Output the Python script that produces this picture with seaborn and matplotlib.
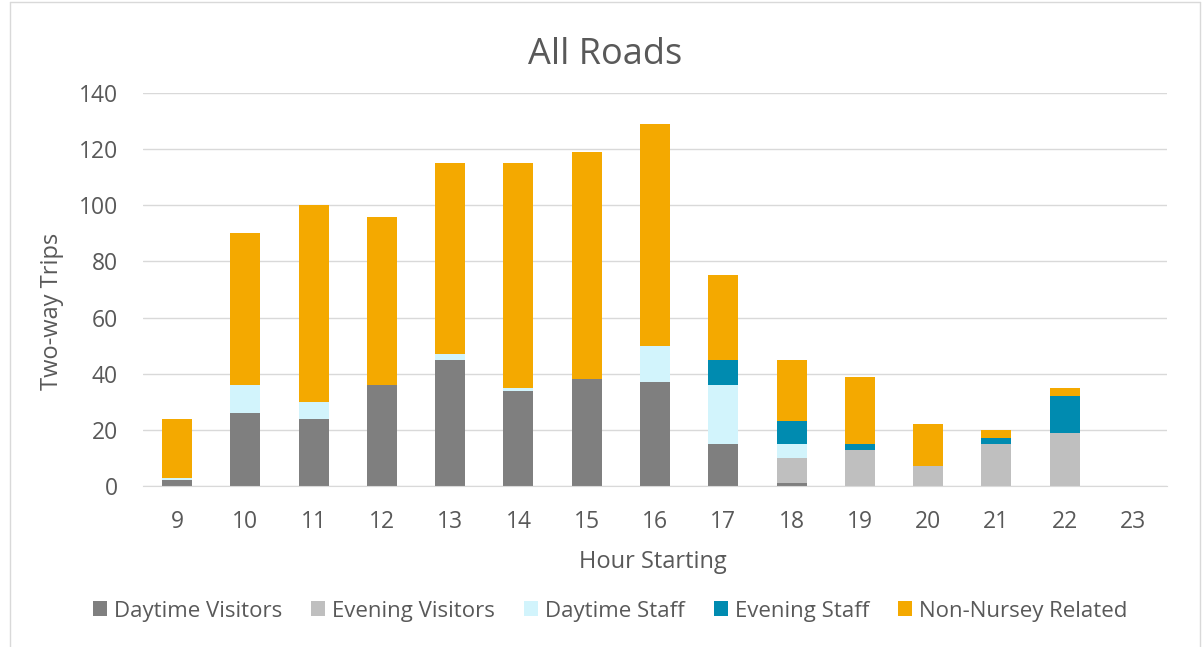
import numpy as np
import pandas as pd
import seaborn as sns
import matplotlib.pyplot as plt
from matplotlib.lines import Line2D
from matplotlib.patches import Patch

hours = ['9', '10', '11', '12', '13', '14', '15', '16', '17', '18', '19', '20', '21', '22', '23']
daytime_visitors = [2, 26, 24, 36, 45, 34, 38, 37, 15, 1, 0, 0, 0, 0, 0]
evening_visitors = [0, 0, 0, 0, 0, 0, 0, 0, 0, 9, 13, 7, 15, 19, 0]
daytime_staff = [1, 10, 6, 0, 2, 1, 0, 13, 21, 5, 0, 0, 0, 0, 0]
evening_staff = [0, 0, 0, 0, 0, 0, 0, 0, 9, 8, 2, 0, 2, 13, 0]
non_nursery = [21, 54, 70, 60, 68, 80, 81, 79, 30, 22, 24, 15, 3, 3, 0]

series = ['Daytime Visitors', 'Evening Visitors', 'Daytime Staff', 'Evening Staff', 'Non-Nursey Related']
colors = ['#7f7f7f', '#bfbfbf', '#d2f4fc', '#008bb0', '#f4a900']

df = pd.DataFrame({
    'hour': hours,
    'Daytime Visitors': daytime_visitors,
    'Evening Visitors': evening_visitors,
    'Daytime Staff': daytime_staff,
    'Evening Staff': evening_staff,
    'Non-Nursey Related': non_nursery,
})

# cumulative totals, drawn from the top layer down so each overlays the previous
cum = df[series].cumsum(axis=1)

sns.set_style('white')
plt.rcParams['font.family'] = ['Open Sans', 'DejaVu Sans']
txt = '#595959'
W, H = 1204, 647

fig, ax = plt.subplots(figsize=(12.04, 6.47), dpi=100)
fig.subplots_adjust(left=143 / W, right=1167 / W, top=1 - 93 / H, bottom=1 - 486 / H)

for name, col in reversed(list(zip(series, colors))):
    sns.barplot(x=df['hour'], y=cum[name], color=col, width=0.44, ax=ax,
                saturation=1, linewidth=0, order=hours)

ax.set_ylim(0, 140)
ax.set_yticks(np.arange(0, 141, 20))
ax.yaxis.grid(True, color='#d9d9d9', linewidth=1)
ax.set_axisbelow(True)
for s in ['top', 'right', 'left']:
    ax.spines[s].set_visible(False)
ax.spines['bottom'].set_color('#d9d9d9')
ax.tick_params(axis='both', length=0, labelsize=16.5, colors=txt)
ax.tick_params(axis='y', pad=18)
ax.tick_params(axis='x', pad=17)
ax.set_xlabel('')
ax.set_ylabel('')

fig.text(605 / W, 1 - 55 / H, 'All Roads', fontsize=26, color=txt, ha='center', va='center')
fig.text(653 / W, 1 - 562 / H, 'Hour Starting', fontsize=17, color=txt, ha='center', va='center')
fig.text(52 / W, 1 - 311 / H, 'Two-way Trips', fontsize=17, color=txt, ha='center', va='center',
         rotation=90)

handles = [Patch(facecolor=c, edgecolor='none') for c in colors]
fig.legend(handles, series, loc='center', bbox_to_anchor=(610 / W, 1 - 611 / H), ncol=5,
           frameon=False, fontsize=16, labelcolor=txt, handlelength=0.65,
           handleheight=0.65, handletextpad=0.3, columnspacing=1.3)

# outer chart border
fig.add_artist(Line2D([10 / W, 10 / W], [0, 0.997], transform=fig.transFigure, color='#d9d9d9', lw=1))
fig.add_artist(Line2D([1200 / W, 1200 / W], [0, 0.997], transform=fig.transFigure, color='#d9d9d9', lw=1))
fig.add_artist(Line2D([10 / W, 1200 / W], [0.997, 0.997], transform=fig.transFigure, color='#d9d9d9', lw=1))

fig.savefig('out.png', dpi=100)
